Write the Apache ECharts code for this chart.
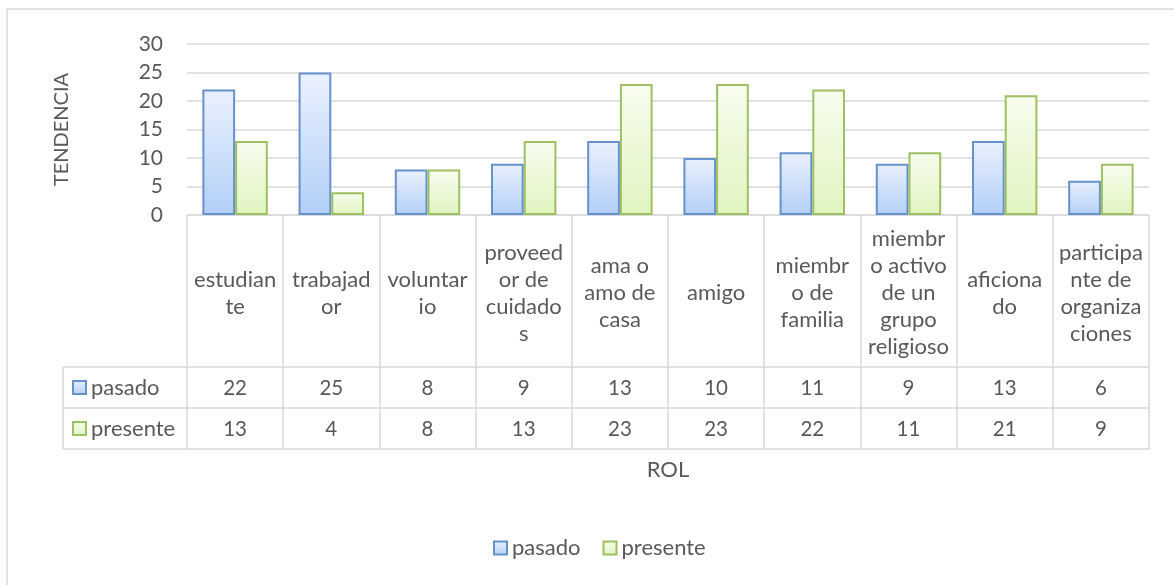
<!DOCTYPE html>
<html>
<head>
<meta charset="utf-8">
<script src="https://cdn.jsdelivr.net/npm/echarts@6/dist/echarts.min.js"></script>
<style>
html,body{margin:0;padding:0;background:#fff;}
#chart{width:1174px;height:585px;}
</style>
</head>
<body>
<div id="chart"></div>
<script>
// ---- data ----
const categories = ['estudiante','trabajador','voluntario','proveedor de cuidados','ama o amo de casa','amigo','miembro de familia','miembro activo de un grupo religioso','aficionado','participante de organizaciones'];
const categoryLabels = ['estudian\nte','trabajad\nor','voluntar\nio','proveed\nor de\ncuidado\ns','ama o\namo de\ncasa','amigo','miembr\no de\nfamilia','miembr\no activo\nde un\ngrupo\nreligioso','aficiona\ndo','participa\nnte de\norganiza\nciones'];
const pasado = [22, 25, 8, 9, 13, 10, 11, 9, 13, 6];
const presente = [13, 4, 8, 13, 23, 23, 22, 11, 21, 9];
const seriesNames = ['pasado', 'presente'];
const yTicks = [0, 5, 10, 15, 20, 25, 30];

// ---- layout ----
const W = 1174, H = 585;
const GRID = {left: 187, right: 25, top: 44, bottom: 370};
const ROW1 = 152, ROW2 = 193, ROW3 = 234; // offsets of table lines below axis
const TABLE_LEFT = 63;
const FONT = 'Lato, "Open Sans", sans-serif';
const TXT = '#595959';
const LINE = '#d9d9d9';
const FS = 22;   // words
const FN = 20.5; // numbers in table

const chart = echarts.init(document.getElementById('chart'), null, {renderer: 'canvas'});
const axisY = H - GRID.bottom;

function grad(top, bottom) {
  return new echarts.graphic.LinearGradient(0, 0, 0, 1, [{offset: 0, color: top}, {offset: 1, color: bottom}]);
}
const styles = [
  {color: grad('#eaf1fd', '#b3cff8'), borderColor: '#6592cb', borderWidth: 2},
  {color: grad('#f8fcef', '#e0f5c0'), borderColor: '#9fc060', borderWidth: 2}
];

const legendText = {color: TXT, fontFamily: FONT, fontSize: FS, lineHeight: 24};

const option = {
  backgroundColor: '#fff',
  animation: false,
  textStyle: {fontFamily: FONT},
  grid: {left: GRID.left, right: GRID.right, top: GRID.top, bottom: GRID.bottom, containLabel: false},
  legend: [
    {data: [seriesNames[0]], left: 72, top: axisY + (ROW1 + ROW2) / 2 - 12, itemWidth: 13, itemHeight: 13, icon: 'rect', textStyle: legendText, padding: 0},
    {data: [seriesNames[1]], left: 72, top: axisY + (ROW2 + ROW3) / 2 - 12, itemWidth: 13, itemHeight: 13, icon: 'rect', textStyle: legendText, padding: 0},
    {data: seriesNames, left: 493, top: 536, itemWidth: 13, itemHeight: 13, itemGap: 22, icon: 'rect', textStyle: legendText, padding: 0}
  ],
  xAxis: [
    {
      type: 'category', data: categories, position: 'bottom', gridIndex: 0,
      axisLine: {show: true, lineStyle: {color: LINE, width: 1.5}},
      axisTick: {show: true, interval: 0, alignWithLabel: false, length: ROW3, lineStyle: {color: LINE, width: 1.5}},
      axisLabel: {interval: 0, margin: ROW1 / 2 + 2, verticalAlign: 'middle', lineHeight: 27, fontSize: FS, color: TXT, fontFamily: FONT,
        formatter: (v, i) => categoryLabels[i]},
      splitLine: {show: false}
    },
    {
      type: 'category', data: categories, position: 'bottom', offset: ROW1,
      axisLine: {show: true, lineStyle: {color: LINE, width: 1.5}},
      axisTick: {show: false},
      axisLabel: {interval: 0, margin: 21, verticalAlign: 'middle', fontSize: FN, color: TXT, fontFamily: FONT,
        formatter: (v, i) => String(pasado[i])}
    },
    {
      type: 'category', data: categories, position: 'bottom', offset: ROW2,
      axisLine: {show: true, lineStyle: {color: LINE, width: 1.5}},
      axisTick: {show: false},
      axisLabel: {interval: 0, margin: 21, verticalAlign: 'middle', fontSize: FN, color: TXT, fontFamily: FONT,
        formatter: (v, i) => String(presente[i])}
    },
    {
      type: 'category', data: categories, position: 'bottom', offset: ROW3,
      axisLine: {show: true, lineStyle: {color: LINE, width: 1.5}},
      axisTick: {show: false},
      axisLabel: {show: false},
      name: 'ROL', nameLocation: 'middle', nameGap: 21,
      nameTextStyle: {fontSize: FS, color: TXT, fontFamily: FONT, verticalAlign: 'middle'}
    }
  ],
  yAxis: {
    type: 'value', min: yTicks[0], max: yTicks[yTicks.length - 1], interval: yTicks[1] - yTicks[0],
    axisLine: {show: false}, axisTick: {show: false},
    axisLabel: {margin: 24, fontSize: 21, color: TXT, fontFamily: FONT},
    splitLine: {lineStyle: {color: LINE, width: 1.5}},
    name: 'TENDENCIA', nameLocation: 'middle', nameRotate: 90, nameGap: GRID.left - 62,
    nameTextStyle: {fontSize: 20, color: TXT, fontFamily: FONT, verticalAlign: 'middle'}
  },
  series: [
    {name: seriesNames[0], type: 'bar', xAxisIndex: 0, data: pasado, barGap: '0%', barCategoryGap: '32%', itemStyle: styles[0]},
    {name: seriesNames[1], type: 'bar', xAxisIndex: 0, data: presente, barGap: '0%', barCategoryGap: '32%', itemStyle: styles[1]}
  ],
  graphic: [
    // outer chart-area border
    {type: 'rect', shape: {x: 7, y: 9, width: W + 20, height: H + 20}, style: {fill: 'none', stroke: '#e3e3e3', lineWidth: 2}, silent: true},
    // row-header column of the data table
    {type: 'line', shape: {x1: TABLE_LEFT, y1: axisY + ROW1, x2: GRID.left, y2: axisY + ROW1}, style: {stroke: LINE, lineWidth: 1.5}, silent: true},
    {type: 'line', shape: {x1: TABLE_LEFT, y1: axisY + ROW2, x2: GRID.left, y2: axisY + ROW2}, style: {stroke: LINE, lineWidth: 1.5}, silent: true},
    {type: 'line', shape: {x1: TABLE_LEFT, y1: axisY + ROW3, x2: GRID.left, y2: axisY + ROW3}, style: {stroke: LINE, lineWidth: 1.5}, silent: true},
    {type: 'line', shape: {x1: TABLE_LEFT, y1: axisY + ROW1, x2: TABLE_LEFT, y2: axisY + ROW3}, style: {stroke: LINE, lineWidth: 1.5}, silent: true}
  ]
};
chart.setOption(option);
</script>
</body>
</html>
